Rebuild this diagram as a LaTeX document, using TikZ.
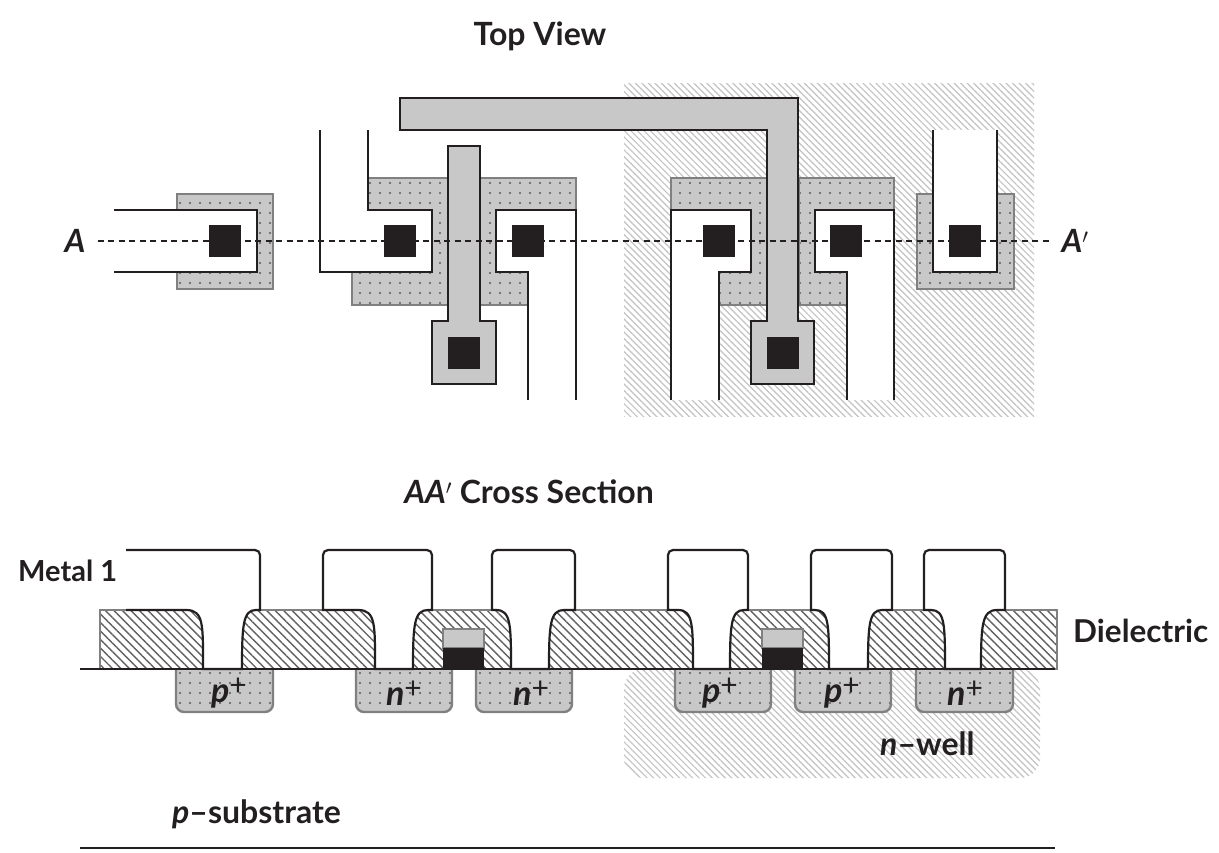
\documentclass[tikz,border=0pt]{standalone}
\usepackage{fontspec}
\setmainfont{Lato}
\usetikzlibrary{patterns.meta}
\definecolor{inkblack}{HTML}{231F20}
\definecolor{polygray}{HTML}{C8C8C8}
\definecolor{edgegray}{HTML}{808080}
\newcommand{\dopeplus}{\raisebox{7pt}{\fontsize{30}{30}\selectfont\mdseries\upshape +}}
\tikzset{
  wellhatch/.style={pattern={Lines[angle=-45,distance=4.6pt,line width=1.2pt]},pattern color=black!24},
  oxidehatch/.style={draw=edgegray,line width=1.6pt,pattern={Lines[angle=-45,distance=6pt,line width=1.4pt]},pattern color=black!62},
  activefill/.style={draw=edgegray,line width=2.4pt,preaction={fill=polygray},pattern={Dots[distance=10pt,radius=1.1pt]},pattern color=black!65},
  polywire/.style={draw=inkblack,line width=2.4pt,fill=polygray,miter limit=10},
  metalwire/.style={draw=inkblack,line width=2.4pt,fill=white},
  cutmetal/.style={draw=inkblack,line width=2.2pt,fill=white},
  contactbox/.style={fill=inkblack,inner sep=0pt,minimum size=32pt},
  labeltext/.style={font=\fontsize{32}{34}\selectfont\bfseries,text=inkblack,inner sep=0pt},
  dopetext/.style={font=\fontsize{34}{36}\selectfont\bfseries\itshape,text=inkblack,inner sep=0pt}
}
\begin{document}
\begin{tikzpicture}[x=1pt,y=-1pt]
\useasboundingbox (0,0) rectangle (1219,853);

% Top view
\fill[wellhatch] (624,84) rectangle (1034,416);

\draw[activefill] (177,194) rectangle (273,289);
\draw[activefill] (368,178) -- (448,178) -- (448,305) -- (352,305) -- (352,272) -- (368,272) -- cycle;
\draw[activefill] (480,178) -- (576,178) -- (576,210) -- (528,210) -- (528,305) -- (480,305) -- cycle;
\draw[activefill] (671,178) -- (767,178) -- (767,305) -- (719,305) -- (719,210) -- (671,210) -- cycle;
\draw[activefill] (799,178) -- (894,178) -- (894,210) -- (847,210) -- (847,305) -- (799,305) -- cycle;
\draw[activefill] (917,194) rectangle (1014,289);

\draw[polywire] (448,146) -- (480,146) -- (480,321) -- (496,321) -- (496,384) -- (432,384) -- (432,321) -- (448,321) -- cycle;
\draw[polywire] (400,98) -- (798,98) -- (798,321) -- (814,321) -- (814,384) -- (751,384) -- (751,321) -- (767,321) -- (767,130) -- (400,130) -- cycle;

\draw[metalwire] (114,210) -- (257,210) -- (257,272) -- (114,272);
\draw[metalwire] (368,130) -- (368,210) -- (432,210) -- (432,272) -- (320,272) -- (320,130);
\draw[metalwire] (576,400) -- (576,210) -- (496,210) -- (496,272) -- (528,272) -- (528,400);
\draw[metalwire] (671,400) -- (671,210) -- (751,210) -- (751,272) -- (719,272) -- (719,400);
\draw[metalwire] (894,400) -- (894,210) -- (815,210) -- (815,272) -- (847,272) -- (847,400);
\draw[metalwire] (933,130) -- (933,272) -- (997,272) -- (997,130);

% Cut line
\node[labeltext,font=\fontsize{32}{34}\selectfont\bfseries\itshape] (cutA) at (75,241) {A};
\node[labeltext,font=\fontsize{32}{34}\selectfont\bfseries\itshape] (cutB) at (1075,241) {A$'$};
\draw[inkblack,line width=2pt,dash pattern=on 6pt off 4.5pt] (cutA.east) ++(12,0) coordinate (cutL) (cutB.west) ++(-10,0) coordinate (cutR) (cutL) -- (cutR);

\node[contactbox] (con1) at (225,241) {};
\node[contactbox] (con2) at (400,241) {};
\node[contactbox] (con3) at (528,241) {};
\node[contactbox] (con4) at (719,241) {};
\node[contactbox] (con5) at (846,241) {};
\node[contactbox] (con6) at (965,241) {};
\node[contactbox] (con7) at (464,353) {};
\node[contactbox] (con8) at (783,353) {};

\node[labeltext] (topview) at (540,36) {Top View};
\node[labeltext] (crosssec) at (529,492) {\textit{AA}$'$ Cross Section};

% Cross section
\fill[wellhatch,rounded corners=20pt] (624,669) -- (624,778) -- (1040,778) -- (1040,669) -- cycle;

\draw[activefill,rounded corners=8pt] (176,660) -- (176,712) -- (273,712) -- (273,660);
\draw[activefill,rounded corners=8pt] (356,660) -- (356,712) -- (452,712) -- (452,660);
\draw[activefill,rounded corners=8pt] (476,660) -- (476,712) -- (572,712) -- (572,660);
\draw[activefill,rounded corners=8pt] (675,660) -- (675,712) -- (771,712) -- (771,660);
\draw[activefill,rounded corners=8pt] (795,660) -- (795,712) -- (891,712) -- (891,660);
\draw[activefill,rounded corners=8pt] (916,660) -- (916,712) -- (1013,712) -- (1013,660);

\fill[white] (100,610) rectangle (1057,669);
\draw[oxidehatch] (100,610) rectangle (1057,669);

\draw[cutmetal] (126,550) [rounded corners=5pt] -- (260,550) [sharp corners] -- (260,610) -- (256,610) .. controls (243,610) and (242,625) .. (242,669) -- (203,669) .. controls (203,625) and (204,610) .. (186,610) -- (126,610);
\draw[cutmetal] (375,669) .. controls (375,625) and (376,610) .. (358,610) -- (323,610) [rounded corners=5pt] -- (323,550) -- (432,550) [sharp corners] -- (432,610) -- (428,610) .. controls (414,610) and (413,625) .. (413,669) -- cycle;
\draw[cutmetal] (511,669) .. controls (511,625) and (511,610) .. (496,610) -- (492,610) [rounded corners=5pt] -- (492,550) -- (575,550) [sharp corners] -- (575,610) -- (564,610) .. controls (550,610) and (549,625) .. (549,669) -- cycle;
\draw[cutmetal] (693,669) .. controls (693,625) and (693,610) .. (678,610) -- (668,610) [rounded corners=5pt] -- (668,550) -- (748,550) [sharp corners] -- (748,610) -- (744,610) .. controls (731,610) and (730,625) .. (730,669) -- cycle;
\draw[cutmetal] (829,669) .. controls (829,625) and (829,610) .. (815,610) -- (811,610) [rounded corners=5pt] -- (811,550) -- (892,550) [sharp corners] -- (892,610) -- (882,610) .. controls (869,610) and (868,625) .. (868,669) -- cycle;
\draw[cutmetal] (945,669) .. controls (945,625) and (945,610) .. (931,610) -- (924,610) [rounded corners=5pt] -- (924,550) -- (1005,550) [sharp corners] -- (1005,610) -- (997,610) .. controls (982,610) and (981,625) .. (981,669) -- cycle;

% Gates
\draw[edgegray,line width=1.6pt,fill=polygray] (443,629) rectangle (484,648);
\fill[inkblack] (443,648) rectangle (484,669);
\draw[edgegray,line width=1.6pt,fill=polygray] (762,629) rectangle (803,648);
\fill[inkblack] (762,648) rectangle (803,669);

\draw[inkblack,line width=2.4pt] (80,669) -- (1055,669);
\draw[inkblack,line width=2.4pt] (80,848) -- (1055,848);

\node[dopetext] (dope1) at (229,693) {p\dopeplus};
\node[dopetext] (dope2) at (404,693) {n\dopeplus};
\node[dopetext] (dope3) at (531,693) {n\dopeplus};
\node[dopetext] (dope4) at (720,693) {p\dopeplus};
\node[dopetext] (dope5) at (842,693) {p\dopeplus};
\node[dopetext] (dope6) at (965,693) {n\dopeplus};

\node[labeltext,font=\fontsize{29}{30}\selectfont\bfseries,anchor=west] (metal) at (18,571) {Metal 1};
\node[labeltext,font=\fontsize{31.5}{34}\selectfont\bfseries,anchor=west] (oxide) at (1073,631) {Dielectric};
\node[labeltext,anchor=west] (nwell) at (880,744) {\textit{n}–well};
\node[labeltext,anchor=west] (psub) at (172,814) {\textit{p}–substrate};
\end{tikzpicture}
\end{document}
